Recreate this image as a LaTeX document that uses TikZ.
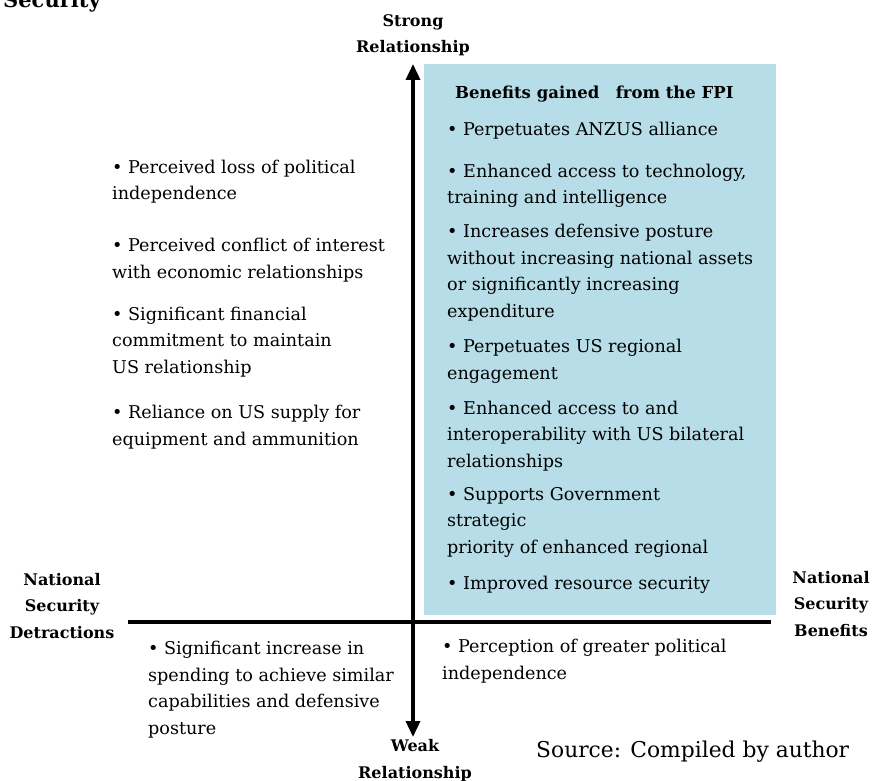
\documentclass[tikz,border=0pt]{standalone}
\usepackage{fontspec}
\setmainfont{DejaVu Serif}
\usetikzlibrary{arrows.meta}
\definecolor{boxblue}{HTML}{B7DDE8}
\begin{document}
\begin{tikzpicture}[x=1pt,y=-1pt,
  txt/.style={inner sep=0pt,anchor=base west,align=left,font=\fontsize{17.6}{26.5}\selectfont},
  hd/.style={inner sep=0pt,anchor=base,align=center,font=\fontsize{16}{26.5}\selectfont\bfseries},
  axis/.style={line width=3.5pt,-{Triangle[length=16pt,width=14pt]}}]
\useasboundingbox (0,0) rectangle (873,781);
\fill[boxblue] (424,64) rectangle (776,615);
% axes
\coordinate (ctr) at (413,622);
\coordinate (top) at (413,64);
\coordinate (bot) at (413,737);
\coordinate (lft) at (128,622);
\coordinate (rgt) at (771,622);
\draw[line width=3.5pt] (lft) -- (rgt);
\draw[axis] (ctr) -- (top);
\draw[axis] (ctr) -- (bot);
% headings
\node[hd,anchor=base west,font=\fontsize{21}{26}\selectfont\bfseries] (sec) at (3,8) {Security};
\node[hd] (strong) at (413,53) {Strong\\Relationship};
\node[hd] (weak) at (415,778) {Weak\\Relationship};
\node[hd] (detr) at (62,638) {National\\Security\\Detractions};
\node[hd] (bene) at (831,636) {National\\Security\\Benefits};
\node[hd,anchor=base west,font=\fontsize{16.5}{26.5}\selectfont\bfseries] (bgf) at (455,99) {Benefits gained\quad from the FPI};
% right box items
\node[txt] (r1) at (447,136) {• Perpetuates ANZUS alliance};
\node[txt] (r2) at (447,204) {• Enhanced access to technology,\\training and intelligence};
\node[txt] (r3) at (447,317) {• Increases defensive posture\\without increasing national assets\\or significantly increasing\\expenditure};
\node[txt] (r4) at (447,379) {• Perpetuates US regional\\engagement};
\node[txt] (r5) at (447,467) {• Enhanced access to and\\interoperability with US bilateral\\relationships};
\node[txt] (r6) at (447,553) {• Supports Government\\strategic\\priority of enhanced regional};
\node[txt] (r7) at (447,589) {• Improved resource security};
% left items
\node[txt] (l1) at (112,200) {• Perceived loss of political\\independence};
\node[txt] (l2) at (112,278) {• Perceived conflict of interest\\with economic relationships};
\node[txt] (l3) at (112,373) {• Significant financial\\commitment to maintain\\US relationship};
\node[txt] (l4) at (112,445) {• Reliance on US supply for\\equipment and ammunition};
% bottom
\node[txt] (b1) at (148,734) {• Significant increase in\\spending to achieve similar\\capabilities and defensive\\posture};
\node[txt] (b2) at (442,679) {• Perception of greater political\\independence};
\node[inner sep=0pt,anchor=base west,font=\fontsize{21.8}{24}\selectfont] (src) at (536,757) {Source: Compiled by author};
\end{tikzpicture}
\end{document}
